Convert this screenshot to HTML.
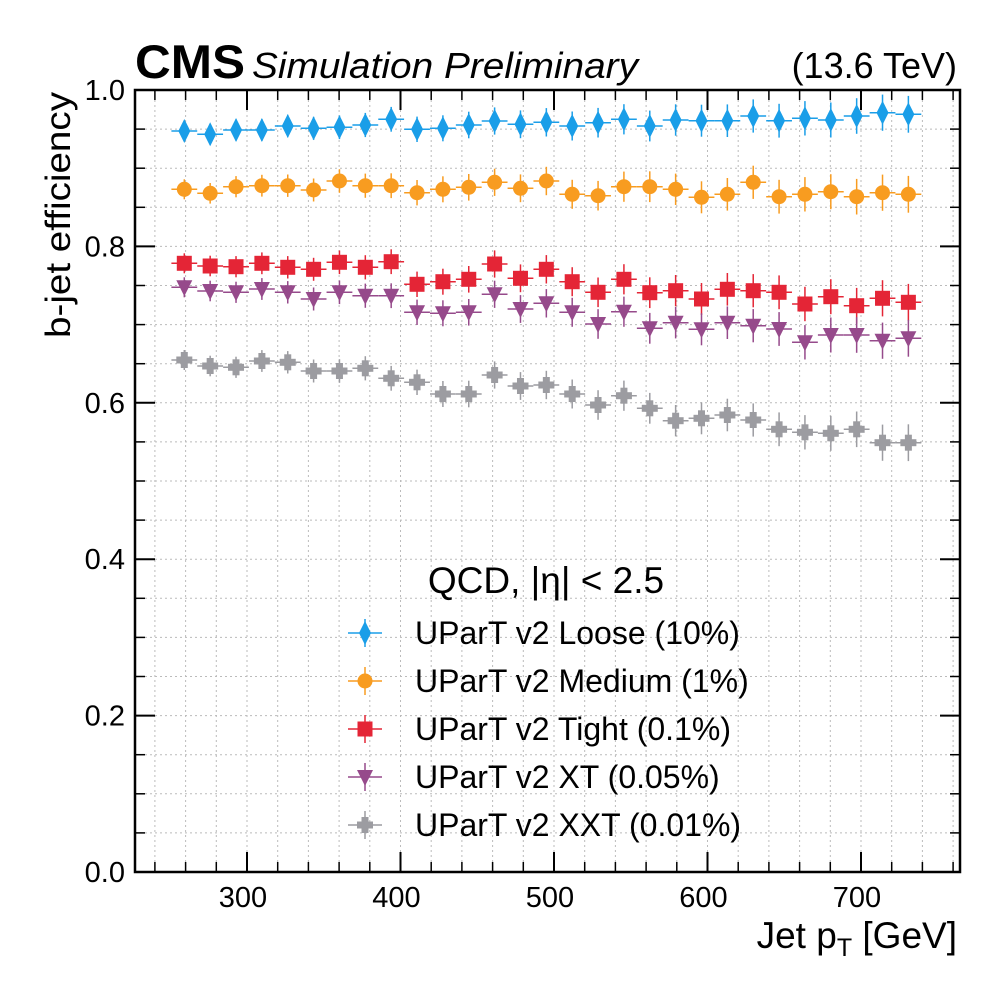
<!DOCTYPE html>
<html><head><meta charset="utf-8"><style>
body{margin:0;background:#fff}
svg{display:block;font-family:"Liberation Sans",sans-serif}
</style></head><body>
<svg id="s" width="1000" height="1000" viewBox="0 0 1000 1000" xmlns="http://www.w3.org/2000/svg">
<rect width="1000" height="1000" fill="#fff"/>
<g id="grid"></g>
<g id="data"></g>
<rect x="135" y="90" width="825" height="782" fill="none" stroke="#000" stroke-width="2.5"/>
<g id="ticks"></g>
<text x="135" y="78" font-size="47" font-weight="bold" textLength="110" lengthAdjust="spacingAndGlyphs">CMS</text>
<text x="252" y="78" font-size="36" font-style="italic" textLength="386" lengthAdjust="spacingAndGlyphs">Simulation Preliminary</text>
<text x="957" y="78" font-size="36" text-anchor="end">(13.6 TeV)</text>
<text transform="translate(70,338) rotate(-90)" font-size="35" textLength="246" lengthAdjust="spacingAndGlyphs">b-jet efficiency</text>
<text x="957" y="948" font-size="37" text-anchor="end">Jet p<tspan font-size="25" dy="8">T</tspan><tspan dy="-8"> [GeV]</tspan></text>
<text x="546" y="593" font-size="37" text-anchor="middle">QCD, |η| &lt; 2.5</text>
<g font-size="32" id="leg">
<text x="415" y="644">UParT v2 Loose (10%)</text>
<text x="415" y="692">UParT v2 Medium (1%)</text>
<text x="415" y="740">UParT v2 Tight (0.1%)</text>
<text x="415" y="788">UParT v2 XT (0.05%)</text>
<text x="415" y="836">UParT v2 XXT (0.01%)</text>
</g>
</svg>
<script>
const NS="http://www.w3.org/2000/svg";
function el(p,t,a){const e=document.createElementNS(NS,t);for(const k in a)e.setAttribute(k,a[k]);p.appendChild(e);return e;}
const g=document.getElementById('grid'),tk=document.getElementById('ticks'),d=document.getElementById('data');
const X=v=>247+(v-300)*1.535, Y=v=>872-v*782;
for(let v=240;v<=760;v+=20){const x=X(v);el(g,'line',{x1:x,x2:x,y1:90,y2:872,stroke:'#bbb','stroke-width':1,'stroke-dasharray':'2,3'});
 const maj=v%100==0;el(tk,'line',{x1:x,x2:x,y1:872,y2:872-(maj?20:10),stroke:'#000','stroke-width':maj?2:1.5});
 el(tk,'line',{x1:x,x2:x,y1:90,y2:90+(maj?20:10),stroke:'#000','stroke-width':maj?2:1.5});
 if(maj){const t=el(tk,'text',{x:x-4,y:907,'font-size':29,'text-anchor':'middle'});t.textContent=v;}}
for(let i=0;i<=20;i++){const v=i*0.05,y=Y(v);if(i>0&&i<20)el(g,'line',{x1:135,x2:960,y1:y,y2:y,stroke:'#bbb','stroke-width':1,'stroke-dasharray':'2,3'});
 const maj=i%4==0;el(tk,'line',{x1:135,x2:135+(maj?20:10),y1:y,y2:y,stroke:'#000','stroke-width':maj?2:1.5});
 el(tk,'line',{x1:960,x2:960-(maj?20:10),y1:y,y2:y,stroke:'#000','stroke-width':maj?2:1.5});
 if(maj){const t=el(tk,'text',{x:125,y:y+10,'font-size':29,'text-anchor':'end'});t.textContent=v.toFixed(1);}}
const S={
L:{c:'#1a9ee8',m:'d',y:[131,134.3,130,130,126,128.3,127.3,125,119.3,129.3,128.3,125,121,124.3,122.3,126,122.7,119.3,126,120,120.7,120.7,116,120.7,118.3,120,116,112.7,114.3]},
M:{c:'#f89c20',m:'o',y:[189.3,193.3,186.7,185.7,185.7,190,181,185.7,185.7,192.7,189.3,187.3,182.3,188.3,181,194.3,195.7,186.7,186.7,189.3,197.3,194.3,182.3,196.7,194.3,191.7,196.7,192.7,194.3]},
T:{c:'#e42536',m:'s',y:[263.3,266,266.7,263.3,267.3,269.3,262.3,267.3,261.7,284.3,281.7,279.3,264,278.3,269.3,281.7,292.3,279.3,292.7,290.7,299,289.3,290.7,292.3,304,296.7,305.7,298.3,302.3]},
X:{c:'#964a8b',m:'v',y:[287.3,291,292.3,289,292.3,299,292.3,295.7,295.7,312.3,313.3,312.3,294.3,309,303.3,312.3,324,311.7,328.3,322.7,329.3,322.7,325.7,329,342.3,335,335,340.7,338.3]},
XX:{c:'#9c9ca1',m:'p',y:[360,366,367.3,361,362.3,371,371,368.3,378.3,382.3,394,394,375,386,385,394,405,395.7,408.3,420.7,418.3,415,420,429.3,432.3,433.3,429.3,442.7,442.7]}};
function mk(x,y,c,m){
 if(m=='d')el(d,'polygon',{points:`${x},${y-12} ${x+6},${y} ${x},${y+12} ${x-6},${y}`,fill:c});
 else if(m=='o')el(d,'circle',{cx:x,cy:y,r:7.5,fill:c});
 else if(m=='s')el(d,'rect',{x:x-7.5,y:y-7.5,width:15,height:15,fill:c});
 else if(m=='v')el(d,'polygon',{points:`${x-8},${y-7} ${x+8},${y-7} ${x},${y+9}`,fill:c});
 else {el(d,'rect',{x:x-8,y:y-3.5,width:16,height:7,fill:c});el(d,'rect',{x:x-3.5,y:y-8,width:7,height:16,fill:c});}}
for(const k in S){const s=S[k];s.y.forEach((y,i)=>{const x=184.3+i*25.86,e=10+i*0.3;
 el(d,'line',{x1:x-12.9,x2:x+12.9,y1:y,y2:y,stroke:s.c,'stroke-width':1.5});
 el(d,'line',{x1:x,x2:x,y1:y-e,y2:y+e,stroke:s.c,'stroke-width':1.5});mk(x,y,s.c,s.m);});}
const ly=[633,681,729,777,825];Object.values(S).forEach((s,i)=>{const x=365,y=ly[i];
 el(d,'line',{x1:x-17,x2:x+17,y1:y,y2:y,stroke:s.c,'stroke-width':1.5});
 el(d,'line',{x1:x,x2:x,y1:y-14,y2:y+14,stroke:s.c,'stroke-width':1.5});mk(x,y,s.c,s.m);});
</script>
</body></html>
